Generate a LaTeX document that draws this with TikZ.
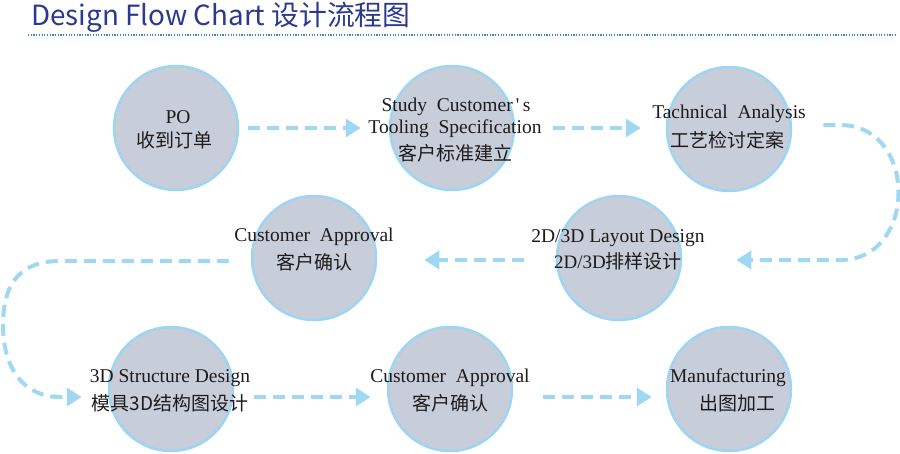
\documentclass[tikz,border=0pt]{standalone}
\usepackage{fontspec}
\setmainfont{Liberation Serif}
\newfontfamily\cjk{Noto Sans CJK SC}
\usetikzlibrary{arrows.meta,calc}
\definecolor{cfill}{RGB}{200,205,218}
\definecolor{cline}{RGB}{157,213,242}
\definecolor{aline}{RGB}{160,216,244}
\definecolor{ttl}{RGB}{43,57,144}
\definecolor{dotc}{RGB}{60,140,170}
\definecolor{txt}{RGB}{30,27,28}
\begin{document}
\begin{tikzpicture}[x=1pt,y=-1pt,
  stage/.style={circle,minimum size=124pt,inner sep=0pt,fill=cfill,draw=cline,line width=2.5pt},
  en/.style={anchor=base,inner sep=0pt,font=\fontsize{19.5}{22}\selectfont,text=txt},
  zh/.style={anchor=base,inner sep=0pt,font=\cjk\fontsize{19}{22}\selectfont,text=txt},
  flow/.style={draw=aline,line width=4pt,dash pattern=on 12pt off 7pt,-{Triangle[length=15pt,width=18pt]}}]
\useasboundingbox (0,0) rectangle (900,453);
% title
\node[anchor=base west,inner sep=0pt,font=\cjk\fontsize{27.8}{30}\selectfont,text=ttl] (title) at (31,25) {Design Flow Chart 设计流程图};
\draw[dotc,line width=1.2pt,dash pattern=on 1.2pt off 1.5pt] (28,35) -- (897,35);
% circles
\node[stage] (c1) at (176,128) {};
\node[stage] (c2) at (452,128) {};
\node[stage] (c3) at (729,129) {};
\node[stage] (c4) at (619,258) {};
\node[stage] (c5) at (314,258) {};
\node[stage] (c6) at (171,389) {};
\node[stage] (c7) at (450,389) {};
\node[stage] (c8) at (729,389) {};
% texts
\node[en] (t1a) at (178,123) {PO};
\node[zh] (t1b) at (174,147) {收到订单};
\node[en] (t2a) at (456,111) {Study\hspace{0.5em}Customer\,\textquotesingle\,s};
\node[en] (t2b) at (455,133) {Tooling\hspace{0.5em}Specification};
\node[zh] (t2c) at (455,160) {客户标准建立};
\node[en] (t3a) at (729,118) {Tachnical\hspace{0.5em}Analysis};
\node[zh] (t3b) at (727,147) {工艺检讨定案};
\node[en] (t4a) at (618,242) {2D/3D Layout Design};
\node[zh] (t4b) at (618,268) {{\rmfamily 2D/3D}排样设计};
\node[en] (t5a) at (314,241) {Customer\hspace{0.5em}Approval};
\node[zh] (t5b) at (314,269) {客户确认};
\node[en] (t6a) at (170,382) {3D Structure Design};
\node[zh] (t6b) at (170,410) {模具3D结构图设计};
\node[en] (t7a) at (450,382) {Customer\hspace{0.5em}Approval};
\node[zh] (t7b) at (450,410) {客户确认};
\node[en] (t8a) at (728,382) {Manufacturing};
\node[zh] (t8b) at (737,410) {出图加工};
% connectors
\draw[flow] ($(c1.east)+(9,0)$) -- ($(c2.west)+(-28,0)$);
\draw[flow] ($(c2.east)+(38,0)$) -- ($(c3.west)+(-25,-1)$);
\draw[flow] ($(c3.east)+(31,-4)$) -- (840,125) .. controls (918,125) and (918,260) .. (840,260) -- ($(c4.east)+(54,2)$);
\draw[flow] ($(c4.west)+(-32,2)$) -- ($(c5.east)+(47,2)$);
\draw[flow] ($(c5.west)+(-22,3)$) -- (60,261) .. controls (15,261) and (3,290) .. (3,325) .. controls (3,370) and (25,397) .. (60,397) -- ($(c6.west)+(-26,8)$);
\draw[flow] ($(c6.east)+(20,8)$) -- ($(c7.west)+(-16,8)$);
\draw[flow] ($(c7.east)+(30,8)$) -- ($(c8.west)+(-14,8)$);
\end{tikzpicture}
\end{document}
